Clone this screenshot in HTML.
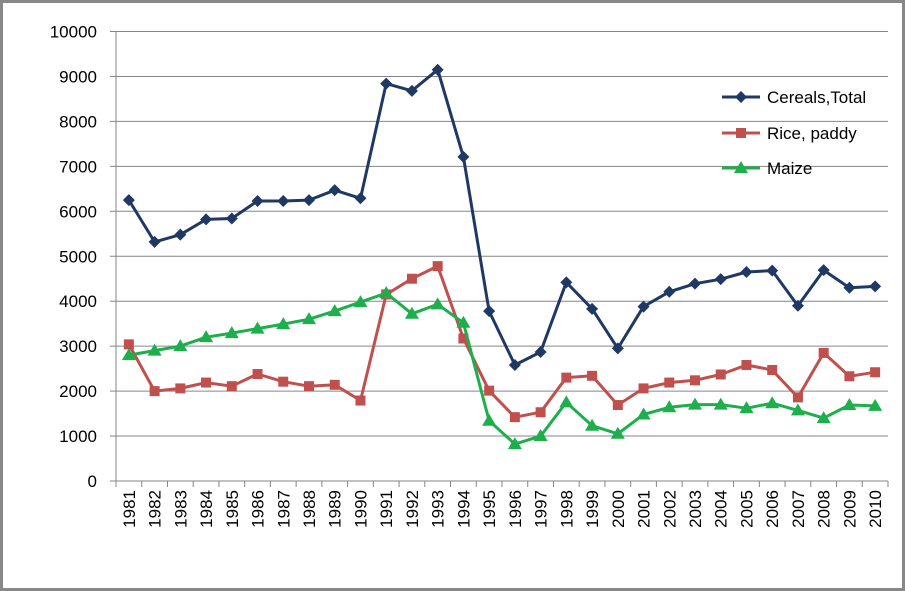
<!DOCTYPE html>
<html><head><meta charset="utf-8"><style>
html,body{margin:0;padding:0;background:#fff}
svg{display:block;font-family:"Liberation Sans",sans-serif}
</style></head><body>
<svg id="c" width="905" height="591" xmlns="http://www.w3.org/2000/svg"></svg>
<script>
const s=document.getElementById('c');
const L=116,R=888,T=31.5,B=481;
const yv=v=>B-(B-T)*v/10000;
const xi=i=>L+(R-L)/30*(i+0.5);
const cer=[6250,5320,5480,5820,5840,6230,6230,6250,6470,6290,8840,8680,9150,7210,3780,2580,2870,4420,3830,2950,3880,4210,4390,4490,4650,4680,3900,4690,4300,4330];
const rice=[3040,2000,2060,2190,2110,2380,2210,2110,2140,1790,4150,4500,4780,3170,2010,1420,1530,2300,2340,1690,2060,2190,2240,2370,2580,2470,1860,2850,2330,2420];
const mz=[2800,2900,3000,3200,3290,3390,3490,3600,3780,3980,4180,3720,3930,3520,1340,820,1000,1750,1230,1050,1480,1640,1700,1700,1620,1730,1570,1400,1690,1670];
let h='<rect x="1.5" y="1.5" width="902" height="588" fill="#fff" stroke="#888" stroke-width="3"/>';
for(let k=0;k<=10;k++){const y=yv(k*1000);
 if(k>0)h+=`<line x1="${L}" x2="${R}" y1="${y}" y2="${y}" stroke="#868686"/>`;
 h+=`<line x1="${L-6}" x2="${L}" y1="${y}" y2="${y}" stroke="#868686"/>`;
 h+=`<text x="97" y="${y+6}" text-anchor="end" font-size="17" fill="#000">${k*1000}</text>`;}
h+=`<line x1="${L}" x2="${L}" y1="${T}" y2="${B}" stroke="#868686"/>`;
h+=`<line x1="${L}" x2="${R}" y1="${B}" y2="${B}" stroke="#868686"/>`;
for(let i=0;i<=30;i++){const x=L+(R-L)/30*i;h+=`<line x1="${x}" x2="${x}" y1="${B}" y2="${B+6}" stroke="#868686"/>`;}
for(let i=0;i<30;i++){const x=xi(i);h+=`<text transform="translate(${x+6},${490}) rotate(-90)" text-anchor="end" font-size="17" fill="#000">${1981+i}</text>`;}
function ser(d,c,m){let p=d.map((v,i)=>`${xi(i).toFixed(1)},${yv(v).toFixed(1)}`).join(' ');
 h+=`<polyline points="${p}" fill="none" stroke="${c}" stroke-width="3" stroke-linejoin="round"/>`;
 d.forEach((v,i)=>h+=mk(xi(i),yv(v),c,m));}
function mk(x,y,c,m){
 if(m==0)return `<polygon points="${x},${y-6} ${x+6},${y} ${x},${y+6} ${x-6},${y}" fill="${c}"/>`;
 if(m==1)return `<rect x="${x-5}" y="${y-5}" width="10" height="10" fill="${c}"/>`;
 return `<polygon points="${x},${y-7} ${x+7},${y+5} ${x-7},${y+5}" fill="${c}"/>`;}
const C=["#1F3864","#C0504D","#1DAF4C"];
ser(cer,C[0],0);ser(rice,C[1],1);ser(mz,C[2],2);
[["Cereals,Total",97],["Rice, paddy",133],["Maize",168]].forEach((e,i)=>{
 h+=`<line x1="722" x2="760" y1="${e[1]}" y2="${e[1]}" stroke="${C[i]}" stroke-width="3"/>`+mk(741,e[1],C[i],i);
 h+=`<text x="767" y="${e[1]+6}" font-size="17" fill="#000">${e[0]}</text>`;});
s.innerHTML=h;
</script>
</body></html>
